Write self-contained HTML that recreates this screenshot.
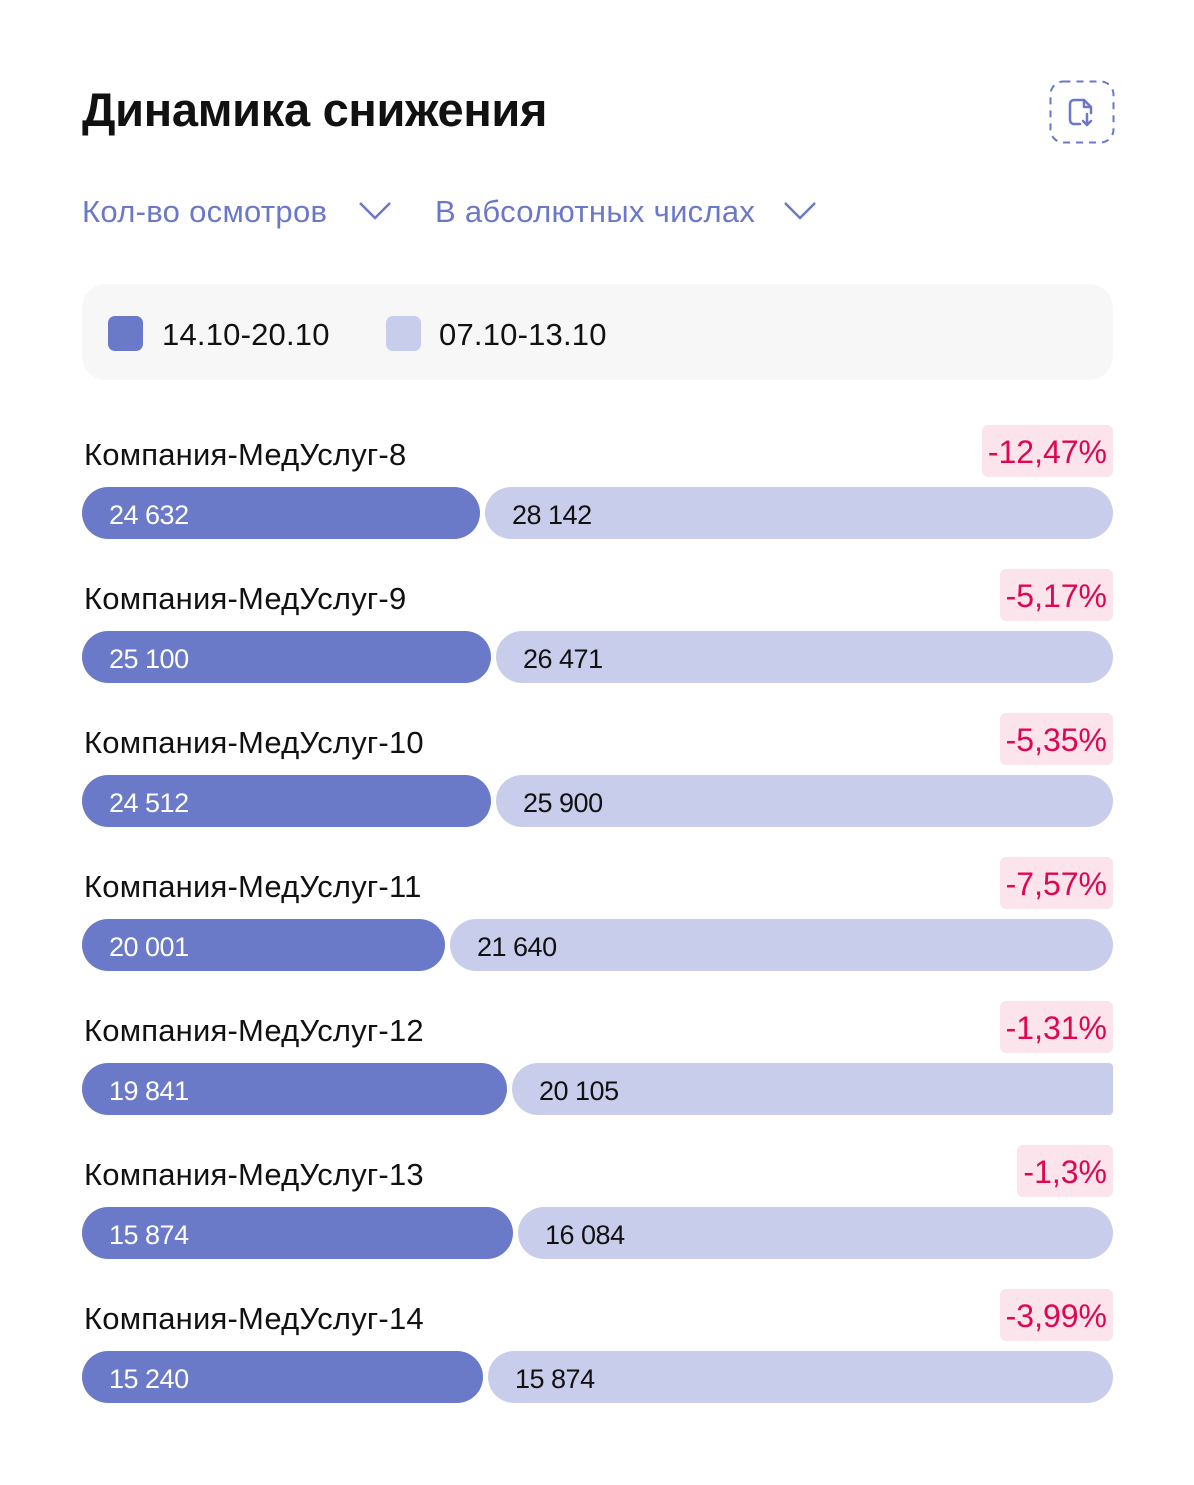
<!DOCTYPE html>
<html><head><meta charset="utf-8"><style>
body{margin:0;width:1194px;height:1485px;background:#fff;font-family:"Liberation Sans","DejaVu Sans",sans-serif;position:relative;overflow:hidden}
.a{position:absolute;white-space:nowrap}
.title{left:82px;top:82px;font-size:47px;font-weight:bold;color:#111;letter-spacing:-0.3px}
.dd{top:194px;font-size:31px;color:#6b78c9;letter-spacing:0.3px}
.leg{left:82px;top:284px;width:1031px;height:96px;background:#f7f7f7;border-radius:24px}
.sq{width:35px;height:35px;border-radius:7px;top:316px}
.lt{top:317px;font-size:31px;color:#111;letter-spacing:0.2px}
.lab{left:84px;font-size:31px;color:#111;letter-spacing:0.2px}
.badge{height:52px;background:#fce4ec;border-radius:6px;color:#e0064f;font-size:32px;line-height:54px;padding:0 6px;text-align:right;right:81px}
.d{height:52px;background:#6b79c9;border-radius:26px;left:82px;color:#fff;font-size:27px;line-height:56px;text-indent:27px;letter-spacing:-0.5px}
.l{height:52px;background:#c9cdec;border-radius:26px;color:#111;font-size:27px;line-height:56px;text-indent:27px;letter-spacing:-0.5px}
</style></head><body>
<div class="a title">Динамика снижения</div>
<svg class="a" style="left:1049px;top:80px" width="66" height="64"><rect x="1.5" y="1.5" width="63" height="61" rx="13" fill="none" stroke="#6b78c9" stroke-width="2" stroke-dasharray="7 6"/><path d="M25 20 h10 l7 7 v6 M35 20 v7 h7 M25 20 a4 4 0 0 0 -4 4 v16 a4 4 0 0 0 4 4 h6" fill="none" stroke="#6b78c9" stroke-width="2.5" stroke-linecap="round" stroke-linejoin="round"/><path d="M38 34 v11 M34 41 l4 4 4 -4" fill="none" stroke="#6b78c9" stroke-width="2.5" stroke-linecap="round" stroke-linejoin="round"/></svg>
<div class="a dd" style="left:82px">Кол-во осмотров</div>
<svg class="a" style="left:358px;top:200px" width="34" height="22"><path d="M2 3 L17 18 L32 3" fill="none" stroke="#6b78c9" stroke-width="2.5"/></svg>
<div class="a dd" style="left:435px">В абсолютных числах</div>
<svg class="a" style="left:783px;top:200px" width="34" height="22"><path d="M2 3 L17 18 L32 3" fill="none" stroke="#6b78c9" stroke-width="2.5"/></svg>
<div class="a leg"></div>
<div class="a sq" style="left:108px;background:#6b79c9"></div>
<div class="a lt" style="left:162px">14.10-20.10</div>
<div class="a sq" style="left:386px;background:#c9cdec"></div>
<div class="a lt" style="left:439px">07.10-13.10</div>

<div class="a lab" style="top:437px">Компания-МедУслуг-8</div>
<div class="a badge" style="top:425px">-12,47%</div>
<div class="a d" style="top:487px;width:398px">24 632</div>
<div class="a l" style="top:487px;left:485px;width:628px">28 142</div>

<div class="a lab" style="top:581px">Компания-МедУслуг-9</div>
<div class="a badge" style="top:569px">-5,17%</div>
<div class="a d" style="top:631px;width:409px">25 100</div>
<div class="a l" style="top:631px;left:496px;width:617px">26 471</div>

<div class="a lab" style="top:725px">Компания-МедУслуг-10</div>
<div class="a badge" style="top:713px">-5,35%</div>
<div class="a d" style="top:775px;width:409px">24 512</div>
<div class="a l" style="top:775px;left:496px;width:617px">25 900</div>

<div class="a lab" style="top:869px">Компания-МедУслуг-11</div>
<div class="a badge" style="top:857px">-7,57%</div>
<div class="a d" style="top:919px;width:363px">20 001</div>
<div class="a l" style="top:919px;left:450px;width:663px">21 640</div>

<div class="a lab" style="top:1013px">Компания-МедУслуг-12</div>
<div class="a badge" style="top:1001px">-1,31%</div>
<div class="a d" style="top:1063px;width:425px">19 841</div>
<div class="a l" style="top:1063px;left:512px;width:601px;border-radius:26px 4px 4px 26px">20 105</div>

<div class="a lab" style="top:1157px">Компания-МедУслуг-13</div>
<div class="a badge" style="top:1145px">-1,3%</div>
<div class="a d" style="top:1207px;width:431px">15 874</div>
<div class="a l" style="top:1207px;left:518px;width:595px">16 084</div>

<div class="a lab" style="top:1301px">Компания-МедУслуг-14</div>
<div class="a badge" style="top:1289px">-3,99%</div>
<div class="a d" style="top:1351px;width:401px">15 240</div>
<div class="a l" style="top:1351px;left:488px;width:625px">15 874</div>
</body></html>
